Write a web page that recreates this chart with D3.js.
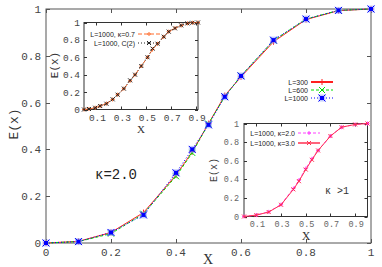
<!DOCTYPE html>
<html>
<head>
<meta charset="utf-8">
<script src="https://cdn.jsdelivr.net/npm/d3@7"></script>
<style>
  body { margin: 0; background: #fff; }
  svg { display: block; }
  .tick-label { font-family: "Liberation Mono", monospace; fill: #444; }
  .leg { font-family: "Liberation Sans", Arial, sans-serif; fill: #222; }
</style>
</head>
<body>
<div id="container"></div>
<script>
// main plot data
const xMain = [0, 0.1, 0.2, 0.3, 0.4, 0.45, 0.5, 0.55, 0.6, 0.7, 0.8, 0.9, 1];
const yL300 = [0, 0.007, 0.045, 0.13, 0.29, 0.39, 0.51, 0.63, 0.71, 0.86, 0.955, 0.993, 1];
const yL600 = [0, 0.006, 0.04, 0.125, 0.285, 0.385, 0.51, 0.625, 0.715, 0.865, 0.957, 0.994, 1];
const yL1000 = [0, 0.006, 0.045, 0.12, 0.30, 0.40, 0.505, 0.625, 0.714, 0.867, 0.957, 0.994, 1];
const mainTicks = [0, 0.2, 0.4, 0.6, 0.8, 1];

// inset 1 (kappa < 1)
const xIn1 = [0, 0.04, 0.09, 0.13, 0.18, 0.23, 0.27, 0.32, 0.37, 0.41, 0.46, 0.51, 0.55, 0.59, 0.64, 0.68, 0.73, 0.78, 0.83, 0.87, 0.915];
const yK07 = [0, 0.006, 0.02, 0.04, 0.068, 0.115, 0.17, 0.24, 0.33, 0.40, 0.50, 0.60, 0.69, 0.755, 0.835, 0.895, 0.935, 0.965, 0.99, 0.997, 1];
const yC2 = [0, 0.006, 0.02, 0.04, 0.066, 0.117, 0.17, 0.24, 0.335, 0.40, 0.50, 0.60, 0.70, 0.756, 0.837, 0.895, 0.933, 0.967, 0.99, 0.997, 1];
const in1XTicks = [0.1, 0.3, 0.5, 0.7, 0.9];
const in1YTicks = [0, 0.2, 0.4, 0.6, 0.8, 1];

// inset 2 (kappa > 1)
const xIn2 = [0, 0.1, 0.2, 0.3, 0.4, 0.445, 0.5, 0.55, 0.6, 0.7, 0.79, 0.9, 1];
const yK20 = [0, 0.015, 0.05, 0.128, 0.30, 0.39, 0.515, 0.62, 0.71, 0.865, 0.96, 0.99, 1];
const yK30 = [0, 0.015, 0.048, 0.126, 0.292, 0.38, 0.505, 0.61, 0.71, 0.865, 0.96, 0.99, 1];
const in2XTicks = [0.1, 0.3, 0.5, 0.7, 0.9];
const in2YTicks = [0, 0.2, 0.4, 0.6, 0.8, 1];

const svg = d3.select('#container').append('svg')
    .attr('width', 382)
    .attr('height', 267);

function marker(g, type, x, y, color, s) {
    if (type === 'plus') {
        g.append('path').attr('d', `M${x - s},${y}H${x + s}M${x},${y - s}V${y + s}`)
            .style('stroke', color).style('stroke-width', 1);
    } else if (type === 'cross') {
        g.append('path').attr('d', `M${x - s},${y - s}L${x + s},${y + s}M${x - s},${y + s}L${x + s},${y - s}`)
            .style('stroke', color).style('stroke-width', 1);
    } else if (type === 'box') {
        g.append('rect').attr('x', x - s - 1).attr('y', y - s - 1).attr('width', 2 * s + 2).attr('height', 2 * s + 2)
            .style('fill', '#9aa8ff').style('opacity', 0.6);
        g.append('rect').attr('x', x - s + 0.5).attr('y', y - s + 0.5).attr('width', 2 * s - 1).attr('height', 2 * s - 1)
            .style('fill', color);
        g.append('path').attr('d', `M${x - s - 1},${y - s - 1}L${x + s + 1},${y + s + 1}M${x - s - 1},${y + s + 1}L${x + s + 1},${y - s - 1}`)
            .style('stroke', color).style('stroke-width', 1);
    }
}

function series(g, xs, ys, xsc, ysc, color, dash, width, mk, ms) {
    const line = d3.line().x((d, i) => xsc(xs[i])).y((d) => ysc(d));
    g.append('path').datum(ys).attr('d', line)
        .style('fill', 'none').style('stroke', color).style('stroke-width', width)
        .style('stroke-dasharray', dash);
    ys.forEach((v, i) => marker(g, mk, xsc(xs[i]), ysc(v), color, ms));
}

function frame(g, xsc, ysc, xt, yt, tl, color) {
    const [x0, x1] = xsc.range();
    const [y0, y1] = ysc.range();
    g.append('rect').attr('x', x0).attr('y', y1).attr('width', x1 - x0).attr('height', y0 - y1)
        .style('fill', 'none').style('stroke', color).style('stroke-width', 1);
    xt.forEach((t) => {
        const x = Math.round(xsc(t)) + 0.5;
        g.append('path').attr('d', `M${x},${y0}v${-tl}M${x},${y1}v${tl}`).style('stroke', color);
    });
    yt.forEach((t) => {
        const y = Math.round(ysc(t)) + 0.5;
        g.append('path').attr('d', `M${x0},${y}h${tl}M${x1},${y}h${-tl}`).style('stroke', color);
    });
}

// ---------- main plot ----------
const xs = d3.scaleLinear().domain([0, 1]).range([46, 371]);
const ys = d3.scaleLinear().domain([0, 1]).range([243, 9]);
const main = svg.append('g');

frame(main, xs, ys, mainTicks, mainTicks, 4, '#555');

main.append('g').selectAll('text').data(mainTicks).enter().append('text')
    .attr('class', 'tick-label')
    .attr('x', (d) => xs(d)).attr('y', 256)
    .attr('text-anchor', 'middle').style('font-size', '11px')
    .text((d) => d3.format('~g')(d));

main.append('g').selectAll('text').data(mainTicks).enter().append('text')
    .attr('class', 'tick-label')
    .attr('x', 41).attr('y', (d) => ys(d) + 4)
    .attr('text-anchor', 'end').style('font-size', '11px')
    .text((d) => d3.format('~g')(d));

main.append('text').attr('transform', 'translate(18 124) rotate(-90)')
    .attr('text-anchor', 'middle')
    .style('font-family', '"Liberation Mono", monospace').style('font-size', '13px').style('fill', '#333')
    .text('E(x)');

main.append('text').attr('x', 208).attr('y', 264).attr('text-anchor', 'middle')
    .style('font-family', '"Liberation Serif", serif').style('font-size', '14px').style('fill', '#333')
    .text('X');

main.append('text').attr('x', 95).attr('y', 179)
    .style('font-family', '"Liberation Mono", monospace').style('font-size', '14px').style('fill', '#222')
    .text('κ=2.0');

// ---------- inset 1 ----------
const x1s = d3.scaleLinear().domain([0, 0.915]).range([84, 198]);
const y1s = d3.scaleLinear().domain([0, 1]).range([109.5, 22.5]);
const in1 = svg.append('g');
in1.append('rect').attr('x', 84).attr('y', 22.5).attr('width', 114).attr('height', 87).style('fill', '#fff');

// ---------- inset 2 ----------
const x2s = d3.scaleLinear().domain([0, 1]).range([244, 367.5]);
const y2s = d3.scaleLinear().domain([0, 1]).range([216.5, 123.5]);
const in2 = svg.append('g');
in2.append('rect').attr('x', 244).attr('y', 123.5).attr('width', 123.5).attr('height', 93).style('fill', '#fff');

// main curves (drawn before insets so the insets sit on top)
const curves = main.append('g');
series(curves, xMain, yL300, xs, ys, '#ff2020', null, 1, 'plus', 3);
series(curves, xMain, yL600, xs, ys, '#00dd00', '3,2', 1, 'cross', 3);
series(curves, xMain, yL1000, xs, ys, '#0000ff', '1,2', 1, 'box', 2.5);
in1.raise();
in2.raise();

// legend main
const legMain = [['L=300', '#ff2020', null, 'plus'], ['L=600', '#00dd00', '3,2', 'cross'], ['L=1000', '#0000ff', '1,2', 'box']];
legMain.forEach((d, i) => {
    const y = 82 + i * 8;
    main.append('text').attr('class', 'leg').attr('x', 308).attr('y', y + 2.5)
        .attr('text-anchor', 'end').style('font-size', '7px').text(d[0]);
    main.append('path').attr('d', `M311,${y}H333`)
        .style('stroke', d[1]).style('stroke-dasharray', d[2]).style('stroke-width', i === 0 ? 2 : 1);
    marker(main, d[3], 322, y, d[1], d[3] === 'box' ? 2.5 : 3);
});

// inset 1 content
frame(in1, x1s, y1s, in1XTicks, in1YTicks, 3, '#333');
series(in1, xIn1, yK07, x1s, y1s, '#ff6a2a', '4,2', 1, 'plus', 2);
series(in1, xIn1, yC2, x1s, y1s, '#222', '1,2', 0.8, 'cross', 2);
in1.append('g').selectAll('text').data(in1XTicks).enter().append('text')
    .attr('class', 'tick-label').attr('x', (d) => x1s(d) + 1).attr('y', 121)
    .attr('text-anchor', 'middle').style('font-size', '9.5px').text((d) => d);
in1.append('g').selectAll('text').data(in1YTicks).enter().append('text')
    .attr('class', 'tick-label').attr('x', 80).attr('y', (d) => y1s(d) + 3.5)
    .attr('text-anchor', 'end').style('font-size', '9.5px').text((d) => d);
in1.append('text').attr('transform', 'translate(58 65) rotate(-90)').attr('text-anchor', 'middle')
    .style('font-family', '"Liberation Mono", monospace').style('font-size', '11px').style('fill', '#333')
    .text('E(x)');
in1.append('text').attr('x', 141).attr('y', 133).attr('text-anchor', 'middle')
    .style('font-family', '"Liberation Serif", serif').style('font-size', '11px').style('fill', '#333')
    .text('X');
const leg1 = [['L=1000, κ=0.7', '#ff6a2a', '4,2', 'plus'], ['L=1000, C(2)', '#222', '1,2', 'cross']];
leg1.forEach((d, i) => {
    const y = 34 + i * 9;
    in1.append('text').attr('class', 'leg').attr('x', 135).attr('y', y + 2.5)
        .attr('text-anchor', 'end').style('font-size', '7px').text(d[0]);
    in1.append('path').attr('d', `M138,${y}H160`)
        .style('stroke', d[1]).style('stroke-dasharray', d[2]);
    marker(in1, d[3], 149, y, d[1], 2);
});

// inset 2 content
frame(in2, x2s, y2s, in2XTicks, in2YTicks, 3, '#333');
series(in2, xIn2, yK20, x2s, y2s, '#ff40ff', '3,2', 1, 'plus', 2);
series(in2, xIn2, yK30, x2s, y2s, '#ff3050', null, 1, 'cross', 2);
in2.append('g').selectAll('text').data(in2XTicks).enter().append('text')
    .attr('class', 'tick-label').attr('x', (d) => x2s(d) + 1).attr('y', 227)
    .attr('text-anchor', 'middle').style('font-size', '8.5px').style('fill', '#666').text((d) => d);
in2.append('g').selectAll('text').data(in2YTicks).enter().append('text')
    .attr('class', 'tick-label').attr('x', 239).attr('y', (d) => y2s(d) + 3)
    .attr('text-anchor', 'end').style('font-size', '8.5px').style('fill', '#666').text((d) => d);
in2.append('text').attr('transform', 'translate(217 170) rotate(-90)').attr('text-anchor', 'middle')
    .style('font-family', '"Liberation Mono", monospace').style('font-size', '10px').style('fill', '#444')
    .text('E(x)');
in2.append('text').attr('x', 306).attr('y', 240).attr('text-anchor', 'middle')
    .style('font-family', '"Liberation Serif", serif').style('font-size', '12px').style('fill', '#333')
    .text('X');
in2.append('text').attr('x', 325).attr('y', 194)
    .style('font-family', '"Liberation Mono", monospace').style('font-size', '10px').style('fill', '#333')
    .text('κ >1');
const leg2 = [['L=1000, κ=2.0', '#ff40ff', '3,2', 'plus'], ['L=1000, κ=3.0', '#ff3050', null, 'cross']];
leg2.forEach((d, i) => {
    const y = 133 + i * 10;
    in2.append('text').attr('class', 'leg').attr('x', 295).attr('y', y + 2.5)
        .attr('text-anchor', 'end').style('font-size', '7px').text(d[0]);
    in2.append('path').attr('d', `M298,${y}H320`)
        .style('stroke', d[1]).style('stroke-dasharray', d[2]).style('stroke-width', i === 1 ? 1.5 : 1);
    marker(in2, d[3], 309, y, d[1], 2);
});
</script>
</body>
</html>
